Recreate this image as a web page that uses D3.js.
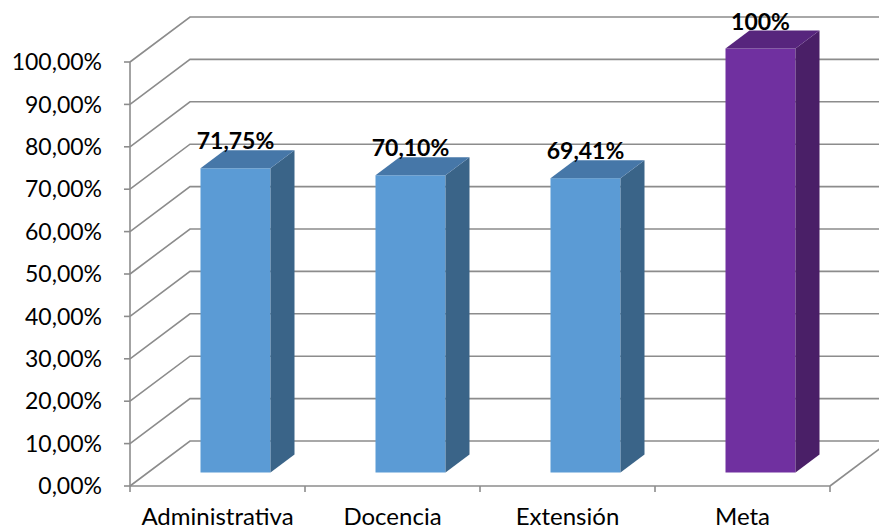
<!DOCTYPE html>
<html>
<head>
<meta charset="utf-8">
<script src="https://cdn.jsdelivr.net/npm/d3@7"></script>
<style>
  html, body { margin: 0; padding: 0; background: #ffffff; }
  #chart { width: 879px; height: 530px; }
</style>
</head>
<body>
<div id="chart"></div>
<script>
const categories = ["Administrativa", "Docencia", "Extensión", "Meta"];
const values = [0.7175, 0.7010, 0.6941, 1.0];
const valueLabels = ["71,75%", "70,10%", "69,41%", "100%"];
const barColors = [
  { front: "#5b9bd5", top: "#4677a8", side: "#3a6488" },
  { front: "#5b9bd5", top: "#4677a8", side: "#3a6488" },
  { front: "#5b9bd5", top: "#4677a8", side: "#3a6488" },
  { front: "#7030a0", top: "#57257d", side: "#4a1f67" }
];
const yTicks = [0, 0.1, 0.2, 0.3, 0.4, 0.5, 0.6, 0.7, 0.8, 0.9, 1.0];
const tickLabels = ["0,00%", "10,00%", "20,00%", "30,00%", "40,00%", "50,00%",
  "60,00%", "70,00%", "80,00%", "90,00%", "100,00%"];

const width = 879;
const height = 530;
const left = 130;
const right = 830;
// depth of the floor/walls in screen pixels
const depthX = 60;
const depthY = -45;
const barFront = 0.3;
const barBack = 0.7;
const font = "Lato, 'Open Sans', sans-serif";
const gridColor = "#8c8c8c";

const svg = d3.select("#chart")
  .append("svg")
  .attr("width", width)
  .attr("height", height);

const x = d3.scaleBand()
  .domain(categories)
  .range([left, right])
  .paddingInner(0.6)
  .paddingOuter(0.3);

const y = d3.scaleLinear()
  .domain([0, 1])
  .range([486, 62]);

const step = x.step();

// side wall diagonals and back wall gridlines
const grid = svg.append("g");
yTicks.forEach((t) => {
  grid.append("path")
    .attr("d", `M${left},${y(t)} L${left + depthX},${y(t) + depthY} L${right + depthX + 10},${y(t) + depthY}`)
    .attr("fill", "none")
    .attr("stroke", gridColor)
    .attr("stroke-width", 1.6);
});

// floor right edge
grid.append("line")
  .attr("x1", right)
  .attr("y1", y(0))
  .attr("x2", right + depthX)
  .attr("y2", y(0) + depthY)
  .attr("stroke", gridColor)
  .attr("stroke-width", 1.6);

// value axis
const axisG = svg.append("g");
axisG.append("line")
  .attr("x1", left).attr("x2", left)
  .attr("y1", y(1)).attr("y2", y(0))
  .attr("stroke", gridColor)
  .attr("stroke-width", 1.6);

yTicks.forEach((t, i) => {
  axisG.append("line")
    .attr("x1", left - 6).attr("x2", left)
    .attr("y1", y(t)).attr("y2", y(t))
    .attr("stroke", gridColor)
    .attr("stroke-width", 1.6);
  axisG.append("text")
    .attr("x", 102)
    .attr("y", y(t))
    .attr("dy", "0.36em")
    .attr("text-anchor", "end")
    .attr("font-family", font)
    .attr("font-size", 23)
    .attr("fill", "#000")
    .text(tickLabels[i]);
});

// category axis
axisG.append("line")
  .attr("x1", left).attr("x2", right)
  .attr("y1", y(0)).attr("y2", y(0))
  .attr("stroke", gridColor)
  .attr("stroke-width", 1.6);

d3.range(categories.length + 1).forEach((i) => {
  const xp = left + i * step;
  axisG.append("line")
    .attr("x1", xp).attr("x2", xp)
    .attr("y1", y(0)).attr("y2", y(0) + 6)
    .attr("stroke", gridColor)
    .attr("stroke-width", 1.6);
});

categories.forEach((c) => {
  axisG.append("text")
    .attr("x", x(c) + x.bandwidth() / 2)
    .attr("y", 525)
    .attr("text-anchor", "middle")
    .attr("font-family", font)
    .attr("font-size", 24)
    .attr("fill", "#000")
    .text(c);
});

// bars
const bw = x.bandwidth();
const fx = barFront * depthX;
const fy = barFront * depthY;
const dx = (barBack - barFront) * depthX;
const dy = (barBack - barFront) * depthY;

const bars = svg.selectAll("g.bar")
  .data(categories)
  .enter()
  .append("g")
  .attr("class", "bar");

bars.each((c, i, nodes) => {
  const g = d3.select(nodes[i]);
  const x0 = x(c) + fx;
  const x1 = x0 + bw;
  const yTop = y(values[i]) + fy;
  const yBot = y(0) + fy;
  const col = barColors[i];

  g.append("rect")
    .attr("x", x0)
    .attr("y", yTop)
    .attr("width", bw)
    .attr("height", yBot - yTop)
    .attr("fill", col.front);

  g.append("path")
    .attr("d", `M${x1},${yTop} L${x1 + dx},${yTop + dy} L${x1 + dx},${yBot + dy} L${x1},${yBot} Z`)
    .attr("fill", col.side);

  g.append("path")
    .attr("d", `M${x0},${yTop} L${x1},${yTop} L${x1 + dx},${yTop + dy} L${x0 + dx},${yTop + dy} Z`)
    .attr("fill", col.top);

  g.append("text")
    .attr("x", x0 + bw / 2)
    .attr("y", yTop + dy - 1)
    .attr("text-anchor", "middle")
    .attr("font-family", font)
    .attr("font-size", 23)
    .attr("font-weight", 700)
    .attr("fill", "#000")
    .text(valueLabels[i]);
});
</script>
</body>
</html>
